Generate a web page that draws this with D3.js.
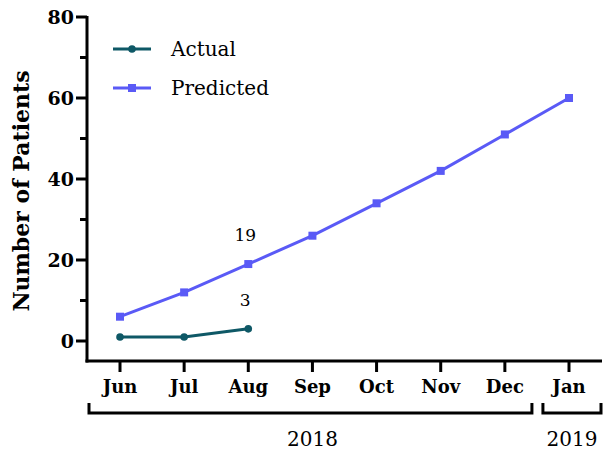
<!DOCTYPE html>
<html><head><meta charset="utf-8">
<script src="https://cdn.jsdelivr.net/npm/d3@7"></script>
<style>body{margin:0;background:#fff}svg{display:block}
text{font-family:"DejaVu Serif","Liberation Serif",serif}</style>
</head><body>
<svg id="c" width="603" height="453"></svg>
<script>
const months = ["Jun","Jul","Aug","Sep","Oct","Nov","Dec","Jan"];
const actual = [1, 1, 3];
const predicted = [6, 12, 19, 26, 34, 42, 51, 60];
const yTicks = [0, 20, 40, 60, 80];
const yMinor = [10, 30, 50, 70];
const years = [{label:"2018", from:"Jun", to:"Dec"}, {label:"2019", from:"Jan", to:"Jan"}];
const annotations = [{month:"Aug", value:19, text:"19"}, {month:"Aug", value:3, text:"3"}];
const seriesNames = ["Actual", "Predicted"];
const colors = {Actual:"#0e5866", Predicted:"#5a5af6"};

const svg = d3.select("#c");
const x = d3.scalePoint().domain(months).range([120, 569]);
const y = d3.scaleLinear().domain([0, 80]).range([341, 17]);
const axisY = 87, axisXBottom = 361;

svg.append("line").attr("x1", axisY).attr("x2", axisY).attr("y1", y(80)-1).attr("y2", axisXBottom+1.5)
  .attr("stroke", "#000").attr("stroke-width", 3);
yTicks.forEach(t => {
  svg.append("line").attr("x1", axisY-11).attr("x2", axisY).attr("y1", y(t)).attr("y2", y(t)).attr("stroke","#000").attr("stroke-width",3);
  svg.append("text").attr("x", axisY-13).attr("y", y(t)).attr("dy","0.35em").attr("text-anchor","end")
    .attr("font-weight","bold").attr("font-size", 19).text(t);
});
yMinor.forEach(t => {
  svg.append("line").attr("x1", axisY-7).attr("x2", axisY).attr("y1", y(t)).attr("y2", y(t)).attr("stroke","#000").attr("stroke-width",3);
});
svg.append("text").attr("transform", `translate(29,${(y(80)+axisXBottom)/2+2}) rotate(-90)`).attr("text-anchor","middle")
  .attr("font-weight","bold").attr("font-size", 22).text("Number of Patients");

svg.append("line").attr("x1", axisY-1.5).attr("x2", 602).attr("y1", axisXBottom).attr("y2", axisXBottom)
  .attr("stroke","#000").attr("stroke-width",3);
months.forEach(m => {
  svg.append("line").attr("x1", x(m)).attr("x2", x(m)).attr("y1", axisXBottom).attr("y2", axisXBottom+11).attr("stroke","#000").attr("stroke-width",3);
  svg.append("text").attr("x", x(m)).attr("y", 393).attr("text-anchor","middle")
    .attr("font-weight","bold").attr("font-size", 18).text(m);
});

const step = x.step();
years.forEach((yr, i) => {
  const x0 = i === 0 ? axisY + 2 : x(yr.from) - step/2 + 6;
  const x1 = i === 0 ? x(yr.to) + step/2 - 5 : 601;
  svg.append("path").attr("d", `M${x0},403V413H${x1}V403`).attr("fill","none").attr("stroke","#000").attr("stroke-width",3);
  svg.append("text").attr("x", (x(yr.from)+x(yr.to))/2 + (i===0?0:3)).attr("y", 446).attr("text-anchor","middle")
    .attr("font-size", 20).text(yr.label);
});

const line = d3.line().x((d,i) => x(months[i])).y(d => y(d));
svg.append("path").datum(predicted).attr("d", line).attr("fill","none").attr("stroke", colors.Predicted).attr("stroke-width",3);
svg.selectAll(".pm").data(predicted).enter().append("rect")
  .attr("x",(d,i)=>x(months[i])-4).attr("y",d=>y(d)-4).attr("width",8).attr("height",8).attr("fill",colors.Predicted);
svg.append("path").datum(actual).attr("d", line).attr("fill","none").attr("stroke", colors.Actual).attr("stroke-width",3);
svg.selectAll(".am").data(actual).enter().append("circle")
  .attr("cx",(d,i)=>x(months[i])).attr("cy",d=>y(d)).attr("r",3.8).attr("fill",colors.Actual);

annotations.forEach(a => {
  svg.append("text").attr("x", x(a.month)-3).attr("y", y(a.value)-23).attr("text-anchor","middle")
    .attr("font-size", 17).text(a.text);
});

seriesNames.forEach((s, i) => {
  const ly = 49 + i*39;
  svg.append("line").attr("x1",113).attr("x2",151).attr("y1",ly).attr("y2",ly).attr("stroke",colors[s]).attr("stroke-width",3);
  if (s === "Actual") svg.append("circle").attr("cx",132).attr("cy",ly).attr("r",3.8).attr("fill",colors[s]);
  else svg.append("rect").attr("x",128).attr("y",ly-4).attr("width",8).attr("height",8).attr("fill",colors[s]);
  svg.append("text").attr("x",171).attr("y",ly).attr("dy","0.35em").attr("font-size",20).text(s);
});
</script>
</body></html>
